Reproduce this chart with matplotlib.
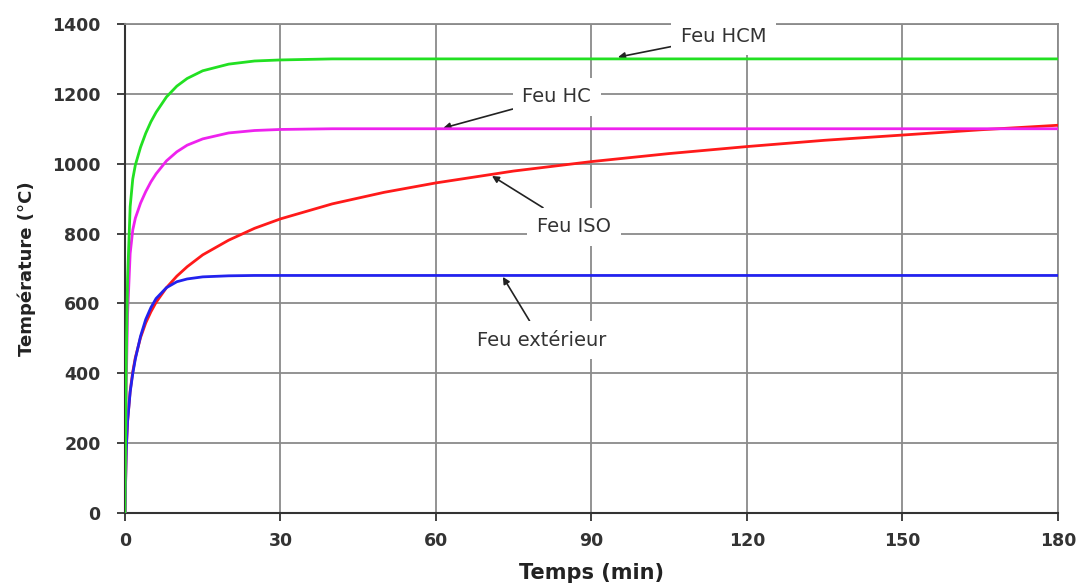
import matplotlib
matplotlib.use("Agg")
import matplotlib.pyplot as plt

plt.rcParams['font.family'] = ['DejaVu Sans']

# temps (min)
temps = [0, 0.25, 0.5, 1, 1.5, 2, 3, 4, 5, 6, 8, 10, 12, 15, 20, 25, 30,
         40, 50, 60, 75, 90, 105, 120, 135, 150, 165, 180]

# temperatures (°C)
feu_hcm = [0, 440, 670, 877, 956, 996, 1047, 1087, 1120, 1147, 1191, 1222, 1244, 1266,
           1285, 1294, 1297, 1300, 1300, 1300, 1300, 1300, 1300, 1300, 1300, 1300, 1300, 1300]
feu_hc = [0, 373, 568, 743, 810, 844, 887, 920, 948, 971, 1008, 1034, 1053, 1071,
          1088, 1095, 1098, 1100, 1100, 1100, 1100, 1100, 1100, 1100, 1100, 1100, 1100, 1100]
feu_iso = [0, 185, 261, 349, 404, 445, 502, 544, 576, 603, 645, 678, 705, 739,
           781, 815, 842, 885, 918, 945, 979, 1006, 1029, 1049, 1067, 1082, 1097, 1110]
feu_ext = [0, 182, 263, 346, 399, 441, 506, 554, 588, 614, 645, 662, 670, 676,
           679, 680, 680, 680, 680, 680, 680, 680, 680, 680, 680, 680, 680, 680]

fig = plt.figure(figsize=(10.83, 5.86), dpi=100)
ax = fig.add_axes([0.1154, 0.1246, 0.8615, 0.8345])

grid_col = '#8a8a8a'
ax.set_xlim(0, 180)
ax.set_ylim(0, 1400)
ax.set_xticks(range(0, 181, 30))
ax.set_yticks(range(0, 1401, 200))
ax.grid(True, color=grid_col, linewidth=1.3, zorder=0)
ax.set_axisbelow(True)

for side in ['top', 'right']:
    ax.spines[side].set_color(grid_col)
    ax.spines[side].set_linewidth(1.3)
for side in ['left', 'bottom']:
    ax.spines[side].set_color('#333333')
    ax.spines[side].set_linewidth(1.5)

ax.tick_params(direction='out', length=6, width=1.3, color='#333333',
               labelsize=12.5, labelcolor='#333333')
ax.tick_params(axis='x', pad=8)
ax.tick_params(axis='y', pad=11.5)
for lab in ax.get_xticklabels() + ax.get_yticklabels():
    lab.set_fontweight('bold')

ax.plot(temps, feu_iso, color='#ff1a1a', lw=2, zorder=5)
ax.plot(temps, feu_ext, color='#2222ee', lw=2, zorder=5)
ax.plot(temps, feu_hc, color='#ee22ee', lw=2, zorder=6)
ax.plot(temps, feu_hcm, color='#22e022', lw=2, zorder=6)

ax.set_xlabel('Temps (min)', fontsize=15, fontweight='bold', color='#222222', labelpad=9)
ax.set_ylabel('Température (°C)', fontsize=13, fontweight='bold', color='#222222', labelpad=12)

box = dict(boxstyle='square,pad=0.5', fc='white', ec='none')
arrow = dict(arrowstyle='-|>', color='#222222', lw=1.2, mutation_scale=10, shrinkA=0, shrinkB=0)
labels = [
    ('Feu HCM', (95.1, 1305), (115.5, 1365)),
    ('Feu HC', (61.4, 1102), (83.3, 1191)),
    ('Feu ISO', (70.8, 965), (86.6, 819)),
    ('Feu extérieur', (72.9, 676), (80.3, 495)),
]
for txt, xy, xyt in labels:
    ax.annotate(txt, xy=xy, xytext=xyt, ha='center', va='center', fontsize=14,
                color='#333333', bbox=box, arrowprops=arrow, zorder=4)

fig.savefig('out.png', dpi=100)
